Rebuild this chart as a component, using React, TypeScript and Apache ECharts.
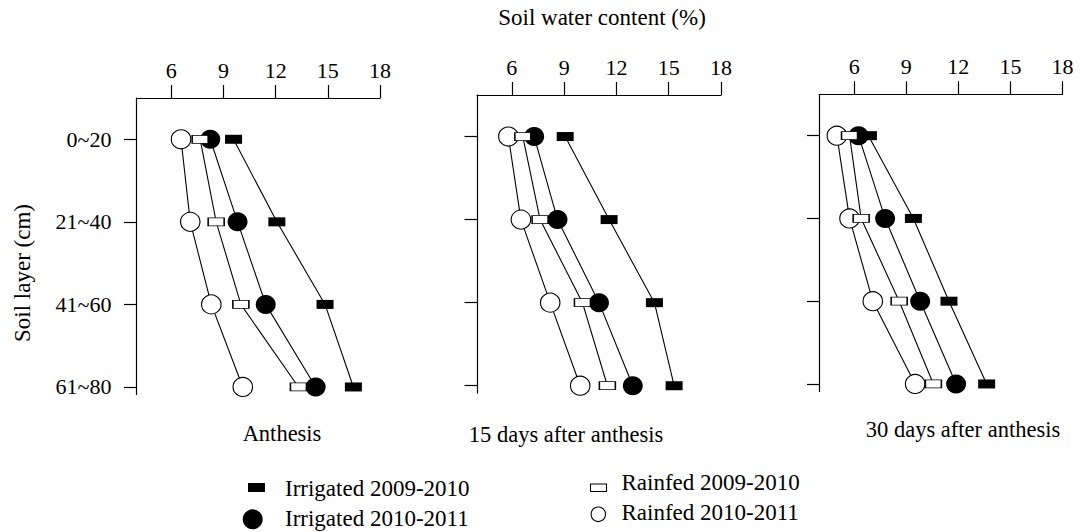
import React, { useEffect, useRef } from "react";
import * as echarts from "echarts";

// Soil layers (y categories, top to bottom)
const layers = ["0~20", "21~40", "41~60", "61~80"];
const xTicks = [6, 9, 12, 15, 18];
const panelTitles = ["Anthesis", "15 days after anthesis", "30 days after anthesis"];
const seriesNames = ["Irrigated 2009-2010", "Irrigated 2010-2011", "Rainfed 2009-2010", "Rainfed 2010-2011"];

// Panel 1: Anthesis
const anthIrr0910 = [9.58, 12.07, 14.84, 16.47];
const anthIrr1011 = [8.24, 9.81, 11.43, 14.3];
const anthRain0910 = [7.66, 8.58, 10.0, 13.31];
const anthRain1011 = [6.56, 7.09, 8.3, 10.11];

// Panel 2: 15 days after anthesis
const d15Irr0910 = [9.06, 11.58, 14.18, 15.31];
const d15Irr1011 = [7.28, 8.62, 11.0, 12.94];
const d15Rain0910 = [6.63, 7.62, 10.05, 11.48];
const d15Rain1011 = [5.8, 6.52, 8.2, 9.92];

// Panel 3: 30 days after anthesis
const d30Irr0910 = [6.82, 9.41, 11.46, 13.63];
const d30Irr1011 = [6.25, 7.78, 9.8, 11.87];
const d30Rain0910 = [5.73, 6.4, 8.59, 10.56];
const d30Rain1011 = [5.0, 5.73, 7.07, 9.51];

const FONT = "Liberation Serif";

export default function App() {
  const ref = useRef<HTMLDivElement>(null);

  useEffect(() => {
    if (!ref.current) return;
    const chart = echarts.init(ref.current, null, { renderer: "svg" });

    const panelData = [
      [anthIrr0910, anthIrr1011, anthRain0910, anthRain1011],
      [d15Irr0910, d15Irr1011, d15Rain0910, d15Rain1011],
      [d30Irr0910, d30Irr1011, d30Rain0910, d30Rain1011],
    ];

    const grids = [
      { left: 136.5, top: 98, width: 243.5, height: 296.4 },
      { left: 477, top: 95, width: 244, height: 298.2 },
      { left: 819.5, top: 94.3, width: 243, height: 297.1 },
    ];

    const lineW = 1.2;
    const markerStyles = [
      { symbol: "rect", symbolSize: [17, 9], itemStyle: { color: "#000", borderColor: "#000", borderWidth: 0, opacity: 1 }, z: 3 },
      { symbol: "circle", symbolSize: [20, 19], itemStyle: { color: "#000", borderColor: "#000", borderWidth: 0, opacity: 1 }, z: 4 },
      { symbol: "rect", symbolSize: [16, 8], itemStyle: { color: "#fff", borderColor: "#000", borderWidth: 1.1, opacity: 1 }, z: 6 },
      { symbol: "circle", symbolSize: [19.5, 19], itemStyle: { color: "#fff", borderColor: "#000", borderWidth: 1.1, opacity: 1 }, z: 5 },
    ];

    const xAxis = grids.map((_, i) => ({
      type: "value",
      gridIndex: i,
      position: "top",
      min: 4,
      max: 18,
      axisLine: { show: true, onZero: false, lineStyle: { color: "#000", width: lineW } },
      axisTick: { show: true, length: 13, customValues: xTicks, lineStyle: { color: "#000", width: lineW } },
      axisLabel: { show: true, customValues: xTicks, margin: 17, color: "#000", fontFamily: FONT, fontSize: 22 },
      splitLine: { show: false },
    }));

    const yAxis = grids.map((_, i) => ({
      type: "value",
      gridIndex: i,
      position: "left",
      inverse: true,
      min: -0.5,
      max: 3.09,
      axisLine: { show: true, onZero: false, lineStyle: { color: "#000", width: lineW } },
      axisTick: { show: true, length: 12.5, customValues: [0, 1, 2, 3], lineStyle: { color: "#000", width: lineW } },
      axisLabel: {
        show: i === 0,
        customValues: [0, 1, 2, 3],
        formatter: (v: number) => layers[Math.round(v)] ?? "",
        margin: 25,
        color: "#000",
        fontFamily: FONT,
        fontSize: 22,
      },
      splitLine: { show: false },
    }));

    const series: any[] = [];
    panelData.forEach((sets, p) => {
      sets.forEach((vals, s) => {
        const data = vals.map((v, k) => [v, k]);
        series.push({
          type: "line",
          name: seriesNames[s] + " line " + p,
          xAxisIndex: p,
          yAxisIndex: p,
          data,
          symbol: "none",
          lineStyle: { color: "#000", width: 1.1 },
          z: 1,
          silent: true,
        });
        const m = markerStyles[s];
        series.push({
          type: "scatter",
          name: seriesNames[s],
          xAxisIndex: p,
          yAxisIndex: p,
          data,
          symbol: m.symbol,
          symbolSize: m.symbolSize,
          itemStyle: m.itemStyle,
          emphasis: { disabled: true },
          z: m.z,
          silent: true,
        });
      });
    });

    const textStyle = (text: string, size: number, align = "center") => ({
      text,
      font: `${size}px "${FONT}"`,
      fill: "#000",
      align,
      verticalAlign: "middle",
      textAlign: align,
      textVerticalAlign: "middle",
    });

    const graphic: any[] = [
      { type: "text", x: 602, y: 17, style: textStyle("Soil water content (%)", 23) },
      { type: "text", x: 22, y: 273, rotation: Math.PI / 2, style: textStyle("Soil layer (cm)", 23) },
      { type: "text", x: 282, y: 433, style: textStyle(panelTitles[0], 22.5) },
      { type: "text", x: 566, y: 434, style: textStyle(panelTitles[1], 22.5) },
      { type: "text", x: 963, y: 429, style: textStyle(panelTitles[2], 22.5) },
      // legend
      { type: "rect", shape: { x: 248, y: 483, width: 17, height: 9 }, style: { fill: "#000" } },
      { type: "text", x: 285, y: 488, style: textStyle(seriesNames[0], 23, "left") },
      { type: "circle", shape: { cx: 252.7, cy: 519.3, r: 10 }, style: { fill: "#000" } },
      { type: "text", x: 285, y: 518.5, style: textStyle(seriesNames[1], 23, "left") },
      { type: "rect", shape: { x: 590.5, y: 484, width: 16, height: 7.5 }, style: { fill: "#fff", stroke: "#000", lineWidth: 1.1 } },
      { type: "text", x: 621.5, y: 482, style: textStyle(seriesNames[2], 23, "left") },
      { type: "circle", shape: { cx: 598.3, cy: 514.3, r: 7.2 }, style: { fill: "#fff", stroke: "#000", lineWidth: 1.1 } },
      { type: "text", x: 621.5, y: 512.5, style: textStyle(seriesNames[3], 23, "left") },
    ];

    chart.setOption({
      animation: false,
      backgroundColor: "#fff",
      grid: grids.map((g) => ({ ...g, containLabel: false })),
      xAxis,
      yAxis,
      series,
      graphic,
    });

    return () => chart.dispose();
  }, []);

  return (
    <div
      ref={ref}
      style={{ position: "fixed", left: 0, top: 0, width: 1083, height: 532, background: "#fff" }}
    />
  );
}
